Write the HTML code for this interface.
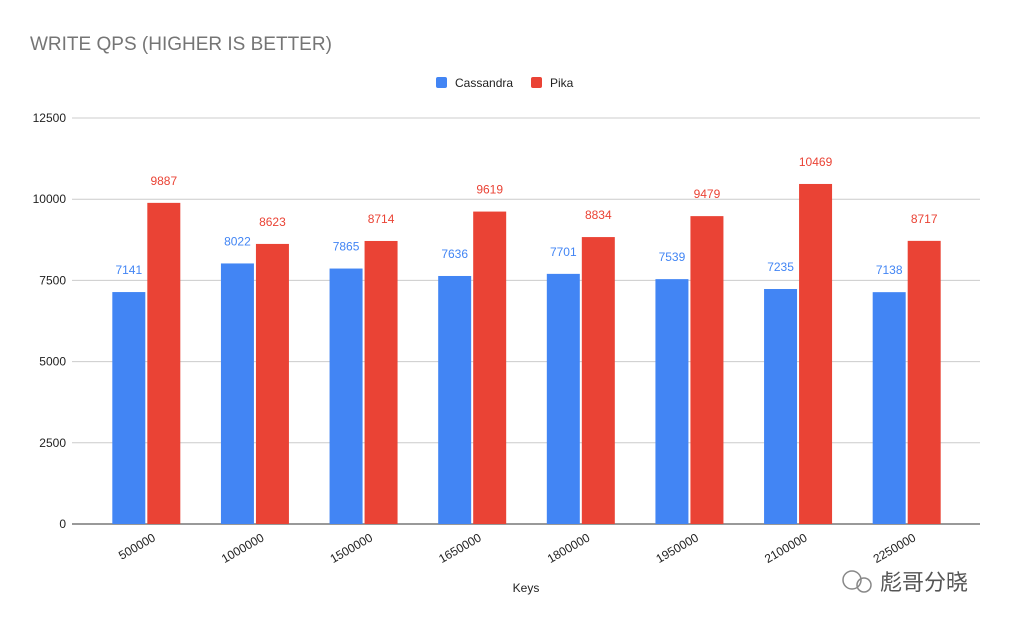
<!DOCTYPE html>
<html><head><meta charset="utf-8"><style>
body{margin:0;background:#fff;}
svg{display:block;font-family:"Liberation Sans","Noto Sans CJK SC",sans-serif;}
</style></head><body>
<svg id="chart" width="1011" height="626">
<text x="30" y="50" font-size="19" fill="#757575">WRITE QPS (HIGHER IS BETTER)</text>
<g>
<rect x="436" y="77" width="11" height="11" rx="2" fill="#4285f4"/>
<text x="455" y="87" font-size="12" fill="#222">Cassandra</text>
<rect x="531" y="77" width="11" height="11" rx="2" fill="#ea4335"/>
<text x="550" y="87" font-size="12" fill="#222">Pika</text>
</g>
<g id="grid"></g><g id="bars"></g><g id="labels"></g>
<text x="526" y="592" font-size="12" fill="#222" text-anchor="middle">Keys</text>
<g>
<circle cx="852" cy="580" r="9" fill="none" stroke="#888" stroke-width="1.5"/>
<circle cx="864" cy="585" r="7" fill="none" stroke="#888" stroke-width="1.5"/>
<text x="880" y="590" font-size="22" fill="#555">彪哥分晓</text>
</g>
</svg>
<script>
const categories=["500000","1000000","1500000","1650000","1800000","1950000","2100000","2250000"];
const cassandra=[7141,8022,7865,7636,7701,7539,7235,7138];
const pika=[9887,8623,8714,9619,8834,9479,10469,8717];
const ticks=[0,2500,5000,7500,10000,12500];
const NS="http://www.w3.org/2000/svg";
const y0=524,yTop=118,maxV=12500,x0=92,plotW=869;
const yS=v=>y0-(v/maxV)*(y0-yTop);
const step=plotW/categories.length;
const xC=i=>x0+step*(i+0.5);
function mk(tag,attrs,parent){const e=document.createElementNS(NS,tag);for(const k in attrs)e.setAttribute(k,attrs[k]);parent.appendChild(e);return e;}
const grid=document.getElementById('grid'),bars=document.getElementById('bars'),labels=document.getElementById('labels');
ticks.forEach(t=>{
 const l=mk('line',{x1:72,x2:980,y1:yS(t),y2:yS(t),stroke:t===0?'#333':'#ccc','stroke-width':1},grid);
 
 
 const tx=mk('text',{x:66,y:yS(t)+4,'font-size':12,fill:'#222','text-anchor':'end'},grid);
 tx.textContent=t;
 
 
});
const bw=33,gap=2;
categories.forEach((c,i)=>{
 const cx=xC(i);
 [[cassandra,'#4285f4',cx-gap/2-bw,'cassandra'],[pika,'#ea4335',cx+gap/2,'pika']].forEach(([arr,col,x,n])=>{
  const v=arr[i];
  const r=mk('rect',{x:x,y:yS(v),width:bw,height:y0-yS(v),fill:col},bars);
  
  
  const t=mk('text',{x:x+bw/2,y:yS(v)-18,'font-size':12,fill:col,'text-anchor':'middle'},labels);
  t.textContent=v;
  
  
 });
 const xl=mk('text',{x:cx+10,y:540,'font-size':12,fill:'#222','text-anchor':'end',transform:`rotate(-30 ${cx+10} 540)`},labels);
 xl.textContent=c;
 
 
});
</script>
</body></html>
